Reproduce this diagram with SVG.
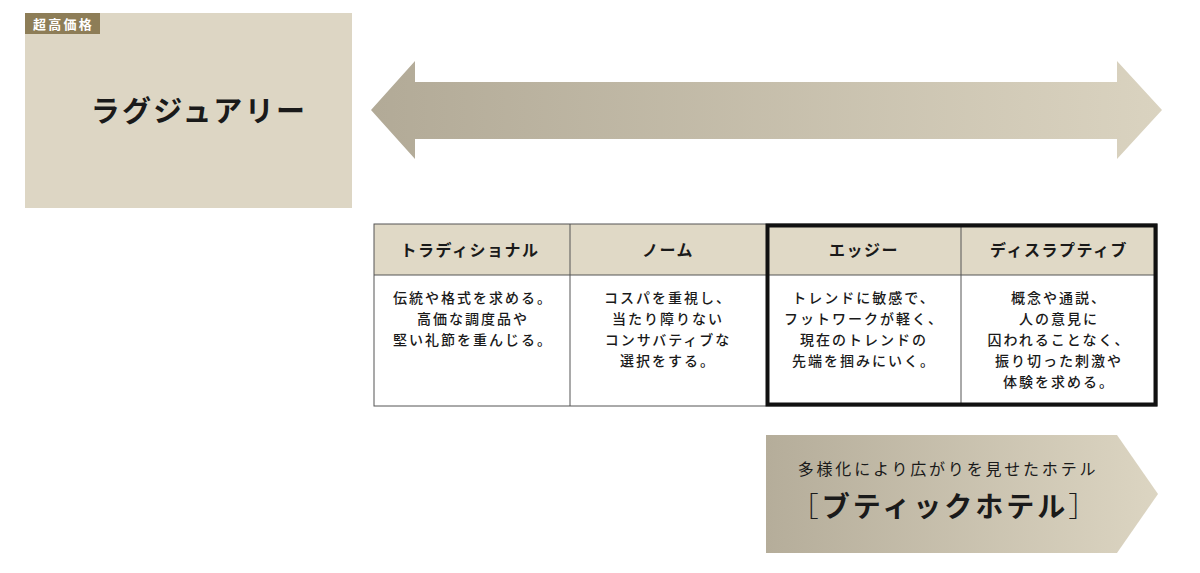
<svg xmlns="http://www.w3.org/2000/svg" width="1200" height="573" viewBox="0 0 1200 573">
<style>
text{font-family:"Noto Sans CJK JP","Noto Sans",sans-serif;fill:#1a1a1a;text-anchor:middle}
.h{font-size:16px;font-weight:700;letter-spacing:1.5px}
.b{font-size:14px;font-weight:500;letter-spacing:2px}
.cell{stroke:#555;stroke-width:1}
</style>
<defs>
<linearGradient id="g1" x1="0" y1="0" x2="1" y2="0">
<stop offset="0" stop-color="#b2aa97"/>
<stop offset="1" stop-color="#dad3c0"/>
</linearGradient>
<linearGradient id="g2" x1="0" y1="0" x2="1" y2="0">
<stop offset="0" stop-color="#b5ad9a"/>
<stop offset="1" stop-color="#dcd5c2"/>
</linearGradient>
</defs>
<rect width="1200" height="573" fill="#fff"/>
<g id="luxury">
<rect x="25" y="13" width="327" height="195" fill="#ddd6c4"/>
<rect x="25" y="13" width="75" height="21" fill="#8d7d57"/>
<text x="63.5" y="28.5" style="font-size:13px;font-weight:700;fill:#fff;letter-spacing:2.2px">超高価格</text>
<text x="199" y="122" style="font-size:29px;font-weight:700;letter-spacing:2.3px">ラグジュアリー</text>
</g>
<g id="connectors">
<polygon points="371,110 415,61 415,82 1117,82 1117,61 1162,110 1117,159 1117,139 415,139 415,159" fill="url(#g1)"/>
</g>
<g id="table">
<rect x="374" y="224" width="783" height="51" fill="#e0d9c6"/>
<rect x="374" y="224" width="783" height="182" fill="none" class="cell"/>
<line x1="374" y1="275" x2="1157" y2="275" class="cell"/>
<line x1="570" y1="224" x2="570" y2="406" class="cell"/>
<line x1="961" y1="224" x2="961" y2="406" class="cell"/>
<rect x="767.5" y="225.5" width="388" height="179" fill="none" stroke="#111" stroke-width="4"/>
</g>
<g id="traditional">
<text class="h" x="470" y="256">トラディショナル</text>
<text class="b" x="473" y="303">伝統や格式を求める。</text>
<text class="b" x="473" y="324">高価な調度品や</text>
<text class="b" x="473" y="345">堅い礼節を重んじる。</text>
</g>
<g id="norm">
<text class="h" x="668" y="256">ノーム</text>
<text class="b" x="668" y="303">コスパを重視し、</text>
<text class="b" x="668" y="324">当たり障りない</text>
<text class="b" x="668" y="345">コンサバティブな</text>
<text class="b" x="668" y="366">選択をする。</text>
</g>
<g id="edgy">
<text class="h" x="864" y="256">エッジー</text>
<text class="b" x="864" y="303">トレンドに敏感で、</text>
<text class="b" x="864" y="324">フットワークが軽く、</text>
<text class="b" x="864" y="345">現在のトレンドの</text>
<text class="b" x="864" y="366">先端を掴みにいく。</text>
</g>
<g id="disruptive">
<text class="h" x="1059" y="256">ディスラプティブ</text>
<text class="b" x="1059" y="303">概念や通説、</text>
<text class="b" x="1059" y="324">人の意見に</text>
<text class="b" x="1059" y="345">囚われることなく、</text>
<text class="b" x="1059" y="366">振り切った刺激や</text>
<text class="b" x="1059" y="387">体験を求める。</text>
</g>
<g id="boutique">
<polygon points="766,435 1117,435 1158,494 1117,553 766,553" fill="url(#g2)"/>
<text x="948" y="475" style="font-size:16px;letter-spacing:2.8px">多様化により広がりを見せたホテル</text>
<text x="945" y="517" style="font-size:28px;font-weight:700;letter-spacing:3px"><tspan style="font-weight:300">［</tspan>ブティックホテル<tspan style="font-weight:300">］</tspan></text>
</g>
</svg>
